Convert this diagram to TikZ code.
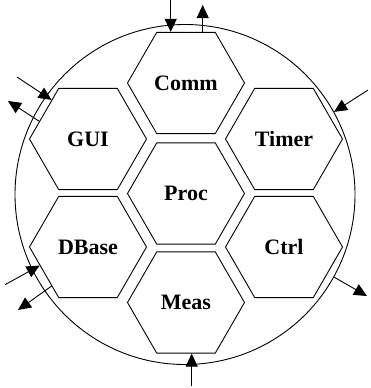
\documentclass[tikz,border=0pt]{standalone}
\usepackage{fontspec}
\setmainfont{Liberation Serif}
\usetikzlibrary{arrows.meta, shapes.geometric}

\begin{document}
\begin{tikzpicture}[x=1pt, y=-1pt,
  hexbox/.style={regular polygon, regular polygon sides=6, draw, line width=0.9pt,
                 minimum size=117pt, inner sep=0pt,
                 font=\fontsize{22}{26}\selectfont\bfseries},
  bound/.style={circle, draw, line width=0.9pt, minimum size=340pt, inner sep=0pt},
  arr/.style={-{Triangle[length=13pt, width=12pt]}, line width=0.9pt}
]
\useasboundingbox (0,0) rectangle (370,388);

% System boundary
\node[bound] (sys) at (185,194.5) {};

% Hexagons
\node[hexbox] (comm)  at (186,83)    {Comm};
\node[hexbox] (gui)   at (88,139)    {GUI};
\node[hexbox] (timer) at (284,139)   {Timer};
\node[hexbox] (proc)  at (186,193.5) {Proc};
\node[hexbox] (dbase) at (88,247)    {DBase};
\node[hexbox] (ctrl)  at (284,247)   {Ctrl};
\node[hexbox] (meas)  at (186,302.5) {Meas};

% Free ends
\coordinate (commin)   at (170.7,0);
\coordinate (commout)  at (202.7,5);
\coordinate (guiin)    at (17,77);
\coordinate (guiout)   at (8,101);
\coordinate (timerin)  at (368,90);
\coordinate (dbasein)  at (5,284.7);
\coordinate (dbaseout) at (18,310);
\coordinate (ctrlout)  at (367,296);
\coordinate (measin)   at (191.7,386);

% Arrows
\draw[arr] (commin) -- (commin |- comm.north);
\draw[arr] (commout |- comm.north) -- (commout);
\draw[arr] (guiin) -- (gui.133);
\draw[arr] (gui.160) -- (guiout);
\draw[arr] (timerin) -- (sys.29);
\draw[arr] (dbasein) -- (dbase.201);
\draw[arr] (dbase.227) -- (dbaseout);
\draw[arr] (sys.-29) -- (ctrlout);
\draw[arr] (measin) -- (measin |- meas.south);
\end{tikzpicture}
\end{document}
